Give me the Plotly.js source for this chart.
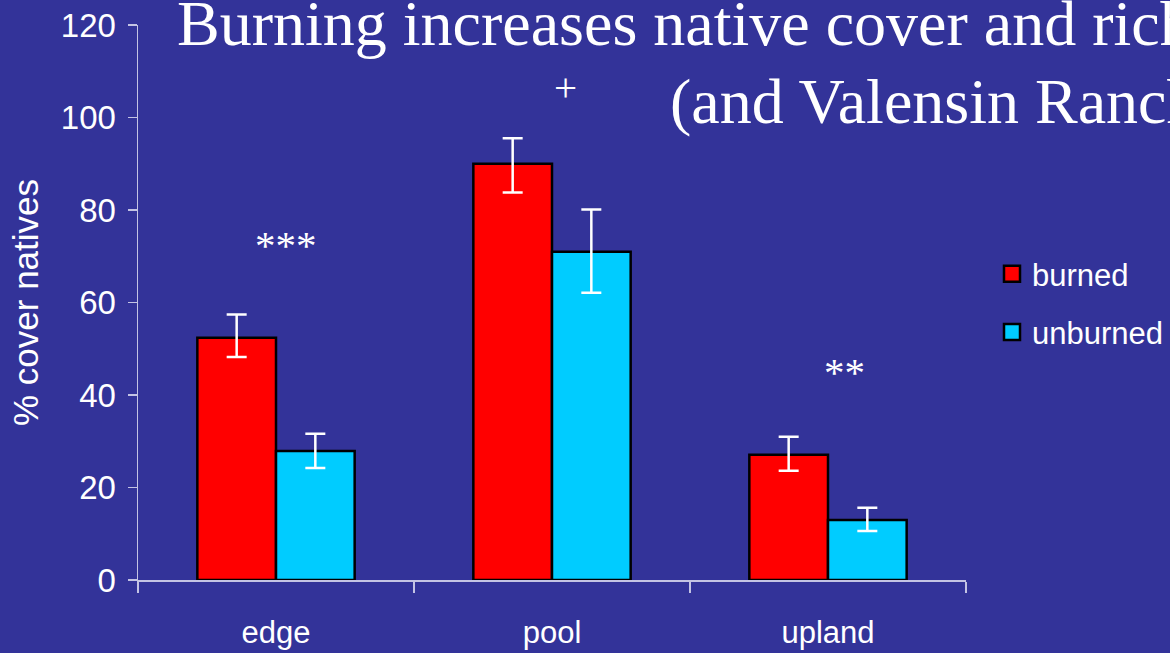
<!DOCTYPE html>
<html>
<head>
<meta charset="utf-8">
<script src="https://cdn.plot.ly/plotly-3.0.1.min.js"></script>
<style>
html,body{margin:0;padding:0;background:#333399;}
#chart{width:1170px;height:653px;}
</style>
</head>
<body>
<div id="chart"></div>
<script>
var categories = ["edge", "pool", "upland"];
var burnedValues = [52.4, 90.0, 27.1];
var burnedErrPlus = [5.0, 5.5, 3.9];
var burnedErrMinus = [4.2, 6.2, 3.5];
var unburnedValues = [27.9, 71.0, 13.0];
var unburnedErrPlus = [3.7, 9.1, 2.6];
var unburnedErrMinus = [3.7, 8.9, 2.4];
var yTickValues = [0, 20, 40, 60, 80, 100, 120];
var sigLabels = ["***", "+", "**"];
var sigHeights = [72.5, 106.5, 45];
var seriesNames = ["burned", "unburned"];
var seriesColors = ["#ff0000", "#00ccff"];
var titleLine1 = "Burning increases native cover and richness";
var titleLine2 = "(and Valensin Ranch)";

var white = "#ffffff";
var axisColor = "#c4c4e4";
var serif = "Liberation Serif, Times New Roman, serif";
var plotLeft = 138, plotWidth = 828;
var sigShifts = [10, 13, 16];

var traces = [
  {
    type: "bar", name: seriesNames[0], x: categories, y: burnedValues, showlegend: false,
    marker: {color: seriesColors[0], line: {color: "#000000", width: 2.5}},
    error_y: {type: "data", symmetric: false, array: burnedErrPlus, arrayminus: burnedErrMinus,
              color: white, thickness: 2.5, width: 10}
  },
  {
    type: "bar", name: seriesNames[1], x: categories, y: unburnedValues, showlegend: false,
    marker: {color: seriesColors[1], line: {color: "#000000", width: 2.5}},
    error_y: {type: "data", symmetric: false, array: unburnedErrPlus, arrayminus: unburnedErrMinus,
              color: white, thickness: 2.5, width: 10}
  }
];
// legend-only entries (square keys)
seriesNames.forEach(function (n, i) {
  traces.push({
    type: "scatter", mode: "markers", name: n, x: [categories[0]], y: [null],
    legendgroup: "g" + i, showlegend: true, hoverinfo: "skip",
    marker: {symbol: "square", size: 16, color: seriesColors[i], line: {color: "#000000", width: 2.5}}
  });
});

var annotations = categories.map(function (c, i) {
  return {
    x: c, y: sigHeights[i], xref: "x", yref: "y", text: sigLabels[i], showarrow: false,
    xanchor: "center", yanchor: "middle",
    xshift: sigShifts[i],
    font: {family: serif, size: 41, color: white}
  };
});
annotations.push({
  x: (175 - plotLeft) / plotWidth, y: 1, xref: "paper", yref: "paper", yshift: 2,
  text: titleLine1, showarrow: false, xanchor: "left", yanchor: "middle",
  font: {family: serif, size: 64, color: white}
});
annotations.push({
  x: (668 - plotLeft) / plotWidth, y: 1, xref: "paper", yref: "paper", yshift: -76,
  text: titleLine2, showarrow: false, xanchor: "left", yanchor: "middle",
  font: {family: serif, size: 64, color: white}
});

var layout = {
  width: 1170, height: 653,
  paper_bgcolor: "#333399", plot_bgcolor: "#333399",
  margin: {l: 138, r: 204, t: 25, b: 73},
  barmode: "group", bargap: 0.43, bargroupgap: 0,
  font: {family: "Liberation Sans, Arial, sans-serif", color: white},
  showlegend: true,
  legend: {
    xref: "container", yref: "container",
    x: 992 / 1170, xanchor: "left", y: (653 - 247) / 653, yanchor: "top",
    bgcolor: "rgba(0,0,0,0)", font: {size: 31, color: white},
    tracegroupgap: 15, traceorder: "grouped"
  },
  xaxis: {
    type: "category", range: [-0.5, 2.5], showline: true, linecolor: axisColor, linewidth: 1.5,
    ticks: "outside", tickson: "boundaries", ticklen: 11, tickcolor: axisColor, tickwidth: 1.5,
    tickfont: {size: 31, color: white}, ticklabelstandoff: 24,
    showgrid: false, zeroline: false, fixedrange: true
  },
  yaxis: {
    range: [0, 120], tickvals: yTickValues, showline: true, linecolor: axisColor, linewidth: 1.5,
    ticks: "outside", ticklen: 9, tickcolor: axisColor, tickwidth: 1.5,
    tickfont: {size: 33, color: white}, ticklabelstandoff: 5,
    showgrid: false, zeroline: false,
    title: {text: "% cover natives", font: {size: 35, color: white}, standoff: 11}
  },
  annotations: annotations
};

Plotly.newPlot("chart", traces, layout, {displayModeBar: false, staticPlot: true});
</script>
</body>
</html>
